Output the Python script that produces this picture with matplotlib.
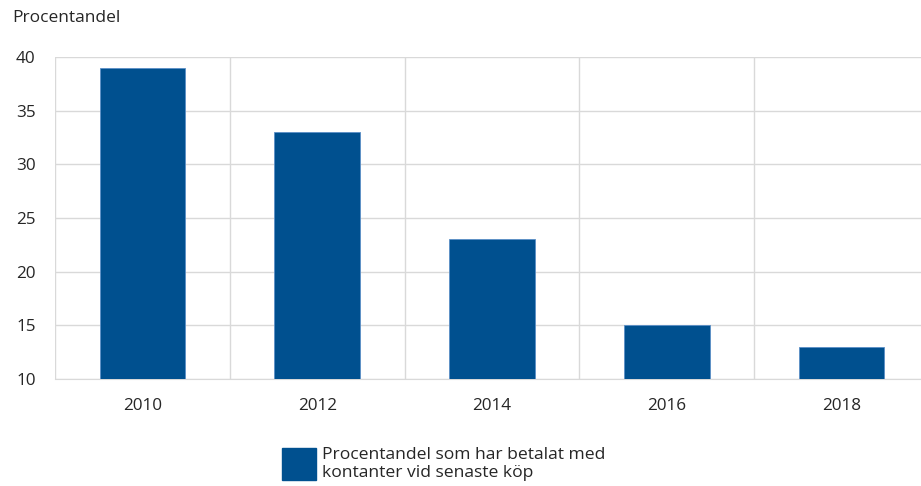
import matplotlib.pyplot as plt

years = ['2010', '2012', '2014', '2016', '2018']
values = [39, 33, 23, 15, 13]
yticks = [10, 15, 20, 25, 30, 35, 40]
series_label = 'Procentandel som har betalat med\nkontanter vid senaste köp'

plt.rcParams['font.family'] = ['Open Sans', 'DejaVu Sans']

fig = plt.figure(figsize=(9.21, 4.86), dpi=100)
W, H = 921, 486
# plot area in pixels: left 55, top 57, bottom 379, one category ~175 px
ax = fig.add_axes([55 / W, 1 - 379 / H, 874 / W, 322 / H])

x = list(range(len(years)))
ax.bar(x, values, width=0.49, bottom=0, color='#00508F',
       edgecolor='#5b8fc7', linewidth=0.6, zorder=3)

ax.set_xlim(-0.5, len(years) - 0.5)
ax.set_ylim(10, 40)
ax.set_yticks(yticks)
ax.set_xticks(x)
ax.set_xticklabels(years)

# vertical gridlines between categories
ax.set_xticks([i - 0.5 for i in range(len(years) + 1)], minor=True)
ax.grid(axis='x', which='minor', color='#d9d9d9', linewidth=1, zorder=0)
ax.grid(axis='y', which='major', color='#d9d9d9', linewidth=1, zorder=0)

for s in ['top', 'right', 'left']:
    ax.spines[s].set_visible(False)
ax.spines['bottom'].set_color('#d9d9d9')
ax.tick_params(which='both', length=0, labelsize=12.3, colors='#262626')
ax.tick_params(axis='y', pad=14)
ax.tick_params(axis='x', pad=14)

fig.text(12 / W, 1 - 18 / H, 'Procentandel', fontsize=12.5, color='#262626',
         va='center', ha='left')

# legend
fig.patches.append(plt.Rectangle((282 / W, 1 - 480 / H), 34 / W, 32 / H,
                                 transform=fig.transFigure, color='#00508F'))
fig.text(322 / W, 1 - 464 / H, series_label, fontsize=12.6, color='#262626',
         va='center', ha='left', linespacing=1.15)

fig.savefig('out.png', dpi=100)
